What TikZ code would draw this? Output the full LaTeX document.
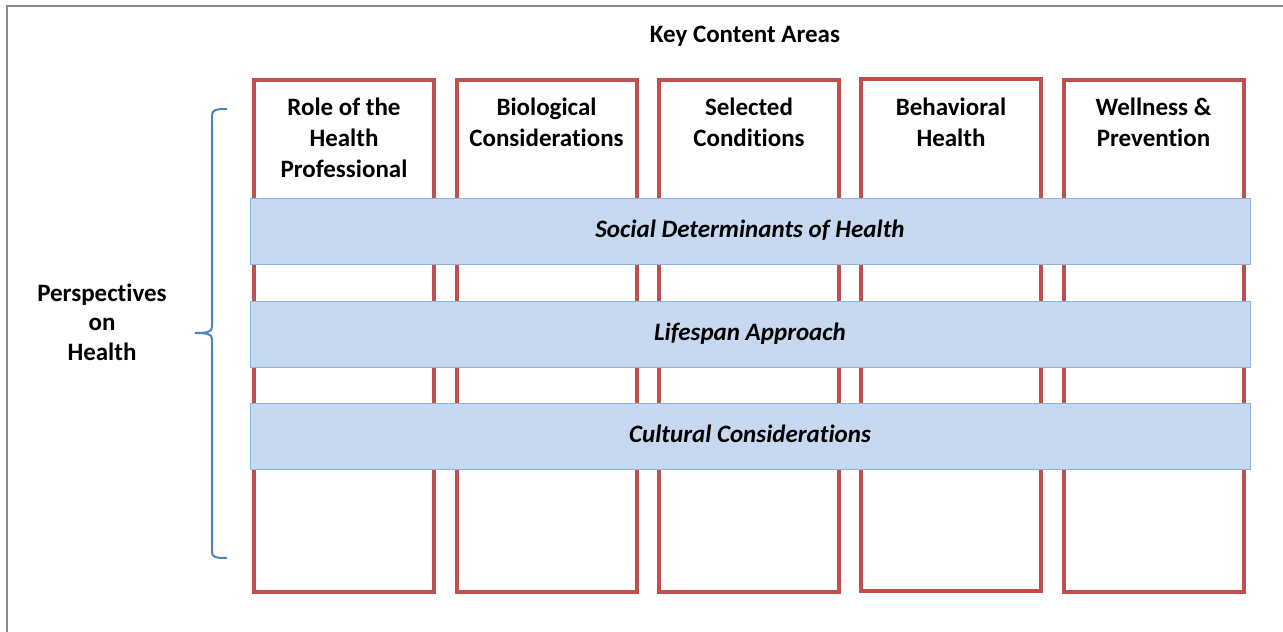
\documentclass[tikz,border=0pt]{standalone}
\usepackage{fontspec}
\setmainfont{Carlito}[Ligatures=NoCommon]
\usetikzlibrary{positioning}

\definecolor{colred}{HTML}{C0504D}
\definecolor{bandfill}{HTML}{C6D9F1}
\definecolor{bandline}{HTML}{8DB3E2}
\definecolor{braceblue}{HTML}{4F81BD}
\definecolor{framegray}{HTML}{898989}

\begin{document}
\begin{tikzpicture}[
    x=1pt, y=-1pt,
    font=\fontsize{25}{31}\selectfont\bfseries,
    column/.style={draw=colred, line width=4pt, rectangle, minimum width=180pt, minimum height=512pt, inner sep=0pt},
    coltitle/.style={anchor=north, align=center, inner sep=0pt},
    band/.style={draw=bandline, line width=1pt, fill=bandfill, rectangle, minimum width=1000pt, minimum height=66pt, text height=1.25em, text depth=0em, font=\fontsize{25}{31}\selectfont\bfseries\itshape},
    bracket/.style={draw=braceblue, line width=2pt},
    frame/.style={draw=framegray, line width=2pt}
]
\useasboundingbox (0,0) rectangle (1283,632);

% Frame
\draw[frame] (1283,6) -- (7,6) -- (7,632);

% Title
\node (keyareas) at (745,36.5) {Key Content Areas};

% Columns
\node[column] (c1) at (344,336)   {};
\node[column] (c2) at (546.5,336) {};
\node[column] (c3) at (749,336)   {};
\node[column] (c4) at (951,335)   {};
\node[column] (c5) at (1153.5,336) {};

% Column titles
\node[coltitle] (t1) at (344,98)    {Role of the\\Health\\Professional};
\node[coltitle] (t2) at (546.5,98)  {Biological\\Considerations};
\node[coltitle] (t3) at (749,98)    {Selected\\Conditions};
\node[coltitle] (t4) at (951,98)    {Behavioral\\Health};
\node[coltitle] (t5) at (1153.5,98) {Wellness \&\\Prevention};

% Bands
\node[band] (social)   at (750,231.5) {Social Determinants of Health};
\node[band] (lifespan) at (750,334.5) {Lifespan Approach};
\node[band] (cultural) at (750,436)   {Cultural Considerations};

% Perspectives
\node[align=center, font=\fontsize{25}{29.5}\selectfont\bfseries] (persp) at (102,322) {Perspectives\\on\\Health};

% Brace
\coordinate (braceTop) at (227,109);
\coordinate (braceTip) at (195,333);
\coordinate (braceBot) at (227,558);
\draw[bracket] (braceTop) .. controls (215,109) and (212,110) .. (212,116)
    -- (212,327) .. controls (212,332) and (207,333) .. (braceTip)
    .. controls (207,333) and (212,334) .. (212,339)
    -- (212,552) .. controls (212,557) and (215,558) .. (braceBot);

\end{tikzpicture}
\end{document}
